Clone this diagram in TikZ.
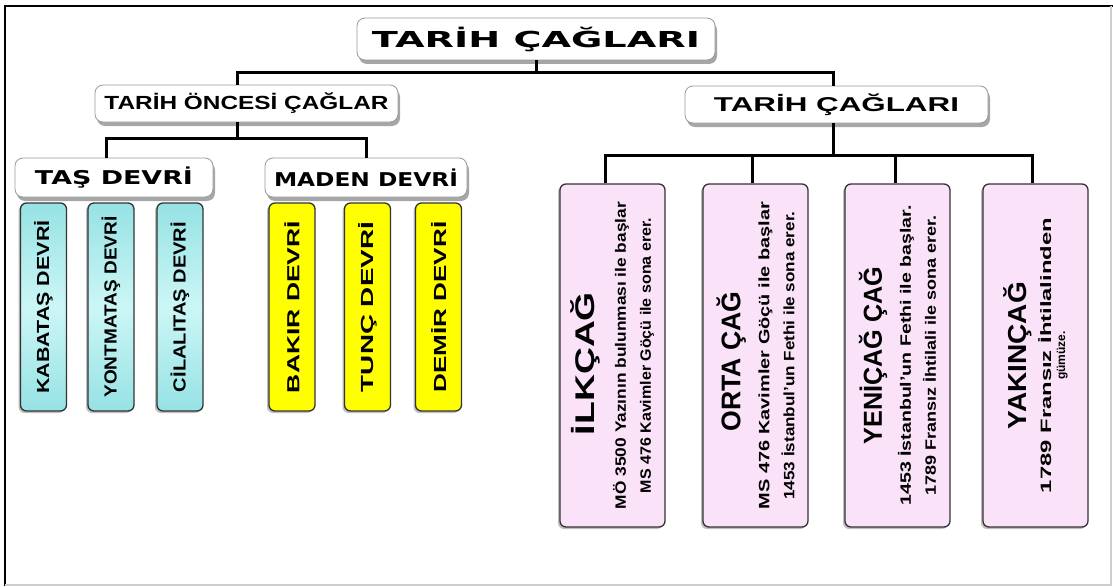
\documentclass[tikz,border=0pt]{standalone}
\usepackage{fontspec}
\setmainfont{Liberation Sans}
\newfontfamily\headfont{DejaVu Sans}
\usepackage{graphicx}
\usepackage{tikz}
\usetikzlibrary{shadows}

\definecolor{stonecyan}{RGB}{204,246,246}
\definecolor{stoneedge}{RGB}{150,226,228}
\definecolor{metalyellow}{RGB}{255,255,0}
\definecolor{agepink}{RGB}{250,226,248}
\definecolor{framegray}{RGB}{205,205,205}

% stretch a text to a given width, height kept
\newcommand{\fitw}[2]{\resizebox{#1}{\height}{#2}}

\begin{document}
\begin{tikzpicture}[
        x=1pt, y=-1pt,
        head/.style={rectangle, rounded corners=8pt, draw=black!40, line width=0.8pt, fill=white,
            inner sep=0pt, drop shadow={shadow xshift=2pt, shadow yshift=-4pt, opacity=0.35, fill=black}},
        era/.style={rectangle, rounded corners=6pt, draw=black!80, line width=1.3pt, rotate=90,
            inner sep=0pt, minimum width=208pt, minimum height=46pt,
            drop shadow={shadow xshift=-2pt, shadow yshift=-2pt, opacity=0.25, fill=black},
            font=\fontsize{17.5}{20}\selectfont\bfseries},
        stone/.style={era, top color=stoneedge, bottom color=stoneedge, middle color=stonecyan},
        metal/.style={era, fill=metalyellow},
        age/.style={rectangle, rounded corners=6pt, draw=black!80, line width=1.3pt, rotate=90,
            fill=agepink, inner sep=0pt, minimum width=343pt, minimum height=105pt, align=center,
            drop shadow={shadow xshift=-2pt, shadow yshift=-2pt, opacity=0.25, fill=black},
            font=\fontsize{15}{25}\selectfont\bfseries},
        link/.style={line width=3pt, black},
        frameline/.style={line width=1.5pt}
    ]
    \useasboundingbox (0,0) rectangle (1113,586);

    % frame
    \draw[frameline, black] (5,586) -- (5,6) -- (1113,6);
    \draw[frameline, framegray] (5,585) -- (1111,585) -- (1111,6);

    % headings
    \node[head, minimum width=358pt, minimum height=42pt] (top) at (536,39)
        {\headfont\fontsize{22}{24}\selectfont\bfseries\fitw{328pt}{TARİH ÇAĞLARI}};
    \node[head, minimum width=303pt, minimum height=37pt] (pre) at (246.5,103.5)
        {\fontsize{19}{21}\selectfont\bfseries\fitw{284pt}{TARİH ÖNCESİ ÇAĞLAR}};
    \node[head, minimum width=303pt, minimum height=37pt] (post) at (836.5,104.5)
        {\fontsize{20}{22}\selectfont\bfseries\fitw{245pt}{TARİH ÇAĞLARI}};
    \node[head, minimum width=198pt, minimum height=39pt] (tas) at (114,177.5)
        {\headfont\fontsize{19}{21}\selectfont\bfseries\fitw{158pt}{TAŞ DEVRİ}};
    \node[head, minimum width=202pt, minimum height=39pt] (maden) at (366,177.5)
        {\headfont\fontsize{19}{21}\selectfont\bfseries\fitw{184pt}{MADEN DEVRİ}};

    % stone and metal ages
    \node[stone] (kabatas) at (43.5,307) {\fitw{173pt}{KABATAŞ DEVRİ}};
    \node[stone] (yontmatas) at (111,307) {\fitw{181pt}{YONTMATAŞ DEVRİ}};
    \node[stone] (cilalitas) at (180,307) {\fitw{170pt}{CİLALITAŞ DEVRİ}};
    \node[metal] (bakir) at (292,307) {\fitw{172pt}{BAKIR DEVRİ}};
    \node[metal] (tunc) at (367.5,307) {\fitw{170pt}{TUNÇ DEVRİ}};
    \node[metal] (demir) at (438.5,307) {\fitw{171pt}{DEMİR DEVRİ}};

    % historical ages
    \node[age] (ilk) at (612.5,355.5)
        {{\fontsize{27}{27}\selectfont\fitw{143pt}{İLKÇAĞ}}\hspace*{16pt}\\[6pt]
         \fitw{307pt}{MÖ 3500 Yazının bulunması ile başlar}\\
         \fitw{275pt}{MS 476 Kavimler Göçü ile sona erer.}};
    \node[age] (orta) at (755.5,355.5)
        {{\fontsize{27}{27}\selectfont\fitw{140pt}{ORTA ÇAĞ}}\hspace*{12pt}\\[4pt]
         \fitw{307pt}{MS 476 Kavimler Göçü ile başlar}\\
         \fitw{288pt}{1453 İstanbul'un Fethi ile sona erer.}};
    \node[age] (yeni) at (897.5,355.5)
        {{\fontsize{26}{26}\selectfont\fitw{178pt}{YENİÇAĞ ÇAĞ}}\\[4pt]
         \fitw{300pt}{1453 İstanbul'un Fethi ile başlar.}\\
         \fitw{280pt}{1789 Fransız İhtilali ile sona erer.}};
    \node[age] (yakin) at (1035.5,355.5)
        {{\fontsize{26}{26}\selectfont\fitw{147pt}{YAKINÇAĞ}}\\[0pt]
         \fitw{275pt}{1789 Fransız İhtilalinden}\\[-11pt]
         {\fontsize{12}{13}\selectfont gümüze.}};

    % connectors
    \coordinate (j0) at (237,72);
    \coordinate (j1) at (833,72);
    \coordinate (k0) at (237,138);
    \coordinate (k1) at (106,138);
    \coordinate (k2) at (366,138);
    \coordinate (m0) at (833,155);
    \coordinate (m1) at (605,155);
    \coordinate (m2) at (752,155);
    \coordinate (m3) at (895,155);
    \coordinate (m4) at (1032,155);

    \draw[link] (top.south) -- (top.south |- j0);
    \draw[link] (pre.north -| j0) -- (j0) -- (j1) -- (post.north -| j1);
    \draw[link] (pre.south -| k0) -- (k0);
    \draw[link] (tas.north -| k1) -- (k1) -- (k2) -- (maden.north -| k2);
    \draw[link] (post.south -| m0) -- (m0);
    \draw[link] (ilk.east -| m1) -- (m1) -- (m4) -- (yakin.east -| m4);
    \draw[link] (orta.east -| m2) -- (m2);
    \draw[link] (yeni.east -| m3) -- (m3);
\end{tikzpicture}
\end{document}
